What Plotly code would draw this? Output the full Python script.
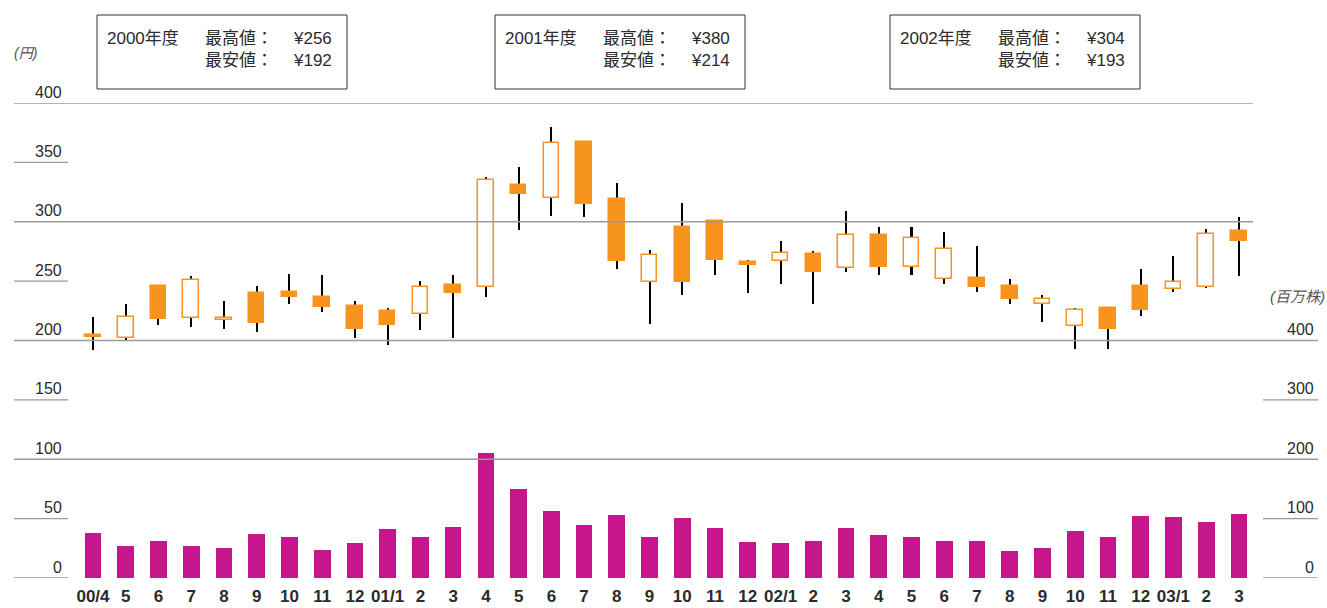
import plotly.graph_objects as go

# ---------------- data ----------------
month_labels = ["00/4", "5", "6", "7", "8", "9", "10", "11", "12", "01/1", "2", "3",
                "4", "5", "6", "7", "8", "9", "10", "11", "12", "02/1", "2", "3",
                "4", "5", "6", "7", "8", "9", "10", "11", "12", "03/1", "2", "3"]
price_open = [205, 202, 246, 219, 217, 240, 241, 237, 229, 225, 222, 247,
              245, 331, 320, 367, 319, 249, 296, 301, 266, 267, 273, 261,
              289, 262, 252, 253, 246, 231, 212, 227, 246, 243, 245, 292]
price_high = [220, 231, 247, 254, 233, 246, 256, 255, 233, 227, 250, 255,
              338, 346, 380, 367, 333, 276, 316, 301, 268, 284, 275, 309,
              296, 296, 291, 280, 252, 238, 227, 228, 260, 271, 294, 304]
price_low = [192, 200, 213, 211, 210, 207, 231, 224, 202, 196, 209, 202,
             237, 293, 305, 304, 260, 214, 238, 255, 240, 248, 231, 258,
             255, 255, 248, 241, 231, 216, 193, 193, 221, 241, 244, 254]
price_close = [203, 220, 218, 251, 219, 215, 237, 228, 210, 213, 245, 240,
               335, 323, 366, 315, 267, 272, 249, 268, 264, 274, 258, 289,
               262, 286, 277, 245, 235, 235, 226, 210, 226, 249, 290, 284]
volume = [76, 54, 62, 54, 50, 74, 69, 47, 59, 82, 69, 86,
          210, 150, 113, 89, 106, 69, 101, 84, 61, 59, 62, 84,
          72, 69, 62, 62, 45, 50, 79, 69, 104, 103, 94, 108]

price_ticks = [0, 50, 100, 150, 200, 250, 300, 350, 400]
volume_ticks = [0, 100, 200, 300, 400]
fiscal_years = ["2000年度", "2001年度", "2002年度"]
year_high = [256, 380, 304]
year_low = [192, 214, 193]

# ---------------- style ----------------
ORANGE = "#F7941D"
MAGENTA = "#C5168B"
GRID = "#9a9a9a"
TEXT = "#2b2b2b"
FONT = "Liberation Sans, Noto Sans CJK JP, sans-serif"

W, H = 1327, 608
L, R, T, B = 14, 9, 103, 30
PW, PH = W - L - R, H - T - B


def px(xp):
    return (xp - L) / PW


def py(yp):
    return (H - B - yp) / PH


x = list(range(len(month_labels)))
body_base = [min(o, c) for o, c in zip(price_open, price_close)]
body_len = [max(abs(c - o), 0.8) for o, c in zip(price_open, price_close)]
body_fill = ["white" if c >= o else ORANGE for o, c in zip(price_open, price_close)]
wick_len = [h - l for h, l in zip(price_high, price_low)]

fig = go.Figure()

# volume bars
fig.add_trace(go.Bar(x=x, y=volume, width=0.51, yaxis="y2",
                     marker=dict(color=MAGENTA, line=dict(width=0)),
                     hoverinfo="skip"))
# wicks
fig.add_trace(go.Bar(x=x, y=wick_len, base=price_low, width=0.062,
                     marker=dict(color="black", line=dict(width=0)),
                     hoverinfo="skip"))
# bodies
fig.add_trace(go.Bar(x=x, y=body_len, base=body_base, width=0.475,
                     marker=dict(color=body_fill, line=dict(color=ORANGE, width=1.5)),
                     hoverinfo="skip"))

shapes = []
# full grid lines (left axis)
for v, right_end in [(400, 1253), (300, 1253), (200, 1318), (100, 1318)]:
    shapes.append(dict(type="line", xref="paper", yref="y", x0=0, x1=px(right_end),
                       y0=v, y1=v, line=dict(color=GRID, width=1.4)))
# short left tick lines
for v in [350, 250, 150, 50, 0]:
    shapes.append(dict(type="line", xref="paper", yref="y", x0=0, x1=px(68),
                       y0=v, y1=v, line=dict(color=GRID, width=1.4)))
# short right tick lines
for v in [300, 100, 0]:
    shapes.append(dict(type="line", xref="paper", yref="y2", x0=px(1263), x1=1,
                       y0=v, y1=v, line=dict(color=GRID, width=1.4)))

annotations = []
for v in price_ticks:
    annotations.append(dict(xref="paper", yref="y", x=px(64), y=v, text=str(v),
                            xanchor="right", yanchor="middle", yshift=11, showarrow=False,
                            font=dict(family=FONT, size=16, color=TEXT)))
for v in volume_ticks:
    annotations.append(dict(xref="paper", yref="y2", x=px(1316), y=v, text=str(v),
                            xanchor="right", yanchor="middle", yshift=11, showarrow=False,
                            font=dict(family=FONT, size=16, color=TEXT)))

annotations.append(dict(xref="paper", yref="paper", x=px(12), y=py(53), text="<i>(円)</i>",
                        xanchor="left", yanchor="middle", showarrow=False,
                        font=dict(family=FONT, size=14, color="#555")))
annotations.append(dict(xref="paper", yref="paper", x=px(1327), y=py(296), text="<i>(百万株)</i>",
                        xanchor="right", yanchor="middle", showarrow=False,
                        font=dict(family=FONT, size=15, color="#555")))

box_lefts = [97, 495, 890]
for bl, fy, hi, lo in zip(box_lefts, fiscal_years, year_high, year_low):
    shapes.append(dict(type="rect", xref="paper", yref="paper",
                       x0=px(bl), x1=px(bl + 250), y0=py(89), y1=py(15),
                       line=dict(color="#333", width=1), fillcolor="rgba(0,0,0,0)"))
    f = dict(family=FONT, size=17, color=TEXT)
    annotations.append(dict(xref="paper", yref="paper", x=px(bl + 8), y=py(38), text=fy,
                            xanchor="left", yanchor="middle", showarrow=False, font=f))
    annotations.append(dict(xref="paper", yref="paper", x=px(bl + 106), y=py(38), text="最高値：",
                            xanchor="left", yanchor="middle", showarrow=False, font=f))
    annotations.append(dict(xref="paper", yref="paper", x=px(bl + 106), y=py(61), text="最安値：",
                            xanchor="left", yanchor="middle", showarrow=False, font=f))
    annotations.append(dict(xref="paper", yref="paper", x=px(bl + 237), y=py(38), text=f"¥{hi}",
                            xanchor="right", yanchor="middle", showarrow=False, font=f))
    annotations.append(dict(xref="paper", yref="paper", x=px(bl + 237), y=py(61), text=f"¥{lo}",
                            xanchor="right", yanchor="middle", showarrow=False, font=f))

step = 32.74
fig.update_layout(
    width=W, height=H,
    margin=dict(l=L, r=R, t=T, b=B, autoexpand=False),
    paper_bgcolor="white", plot_bgcolor="white",
    barmode="overlay", showlegend=False, bargap=0,
    xaxis=dict(range=[(L - 93) / step, (W - R - 93) / step], tickvals=x, ticktext=month_labels,
               showgrid=False, zeroline=False, showline=False, ticks="outside", ticklen=3,
               tickcolor="rgba(0,0,0,0)",
               tickfont=dict(family=FONT, size=17, color=TEXT, weight="bold"), fixedrange=True),
    yaxis=dict(range=[0, 400], visible=False, showgrid=False, zeroline=False, fixedrange=True),
    yaxis2=dict(range=[0, 800], visible=False, overlaying="y", side="right",
                showgrid=False, zeroline=False, fixedrange=True),
    shapes=shapes, annotations=annotations,
)

fig.write_html("out.html", config={"displayModeBar": False},
               post_script="document.body.style.margin='0';document.body.style.overflow='hidden';")
